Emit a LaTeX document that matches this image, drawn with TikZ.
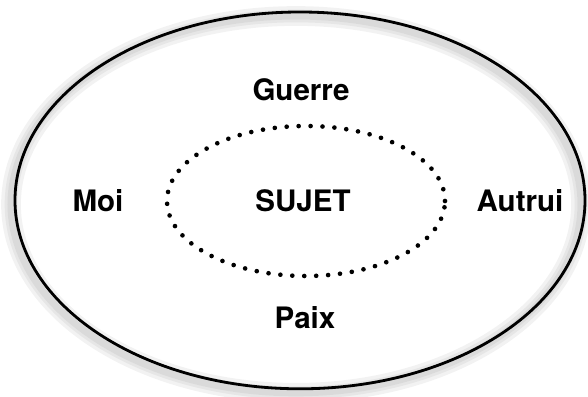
\documentclass[tikz,border=0pt]{standalone}
\usepackage{fontspec}
\setsansfont{TeX Gyre Heros}
\usetikzlibrary{positioning}

\begin{document}
\begin{tikzpicture}[mot/.style={font=\sffamily\bfseries\fontsize{21}{24}\selectfont, inner sep=0pt}]
\useasboundingbox (0,0) rectangle (14.7,9.9);
% soft shade under the outer ring, pushed down and left
\foreach \w in {14,9,5}
  \draw[black, opacity=0.05, line width=\w pt] (7.4,4.79) ellipse (7.125 and 4.71);
\draw[line width=2pt] (7.5,4.89) ellipse (7.125 and 4.71);
% dotted ring round the subject
\draw[line width=3.3pt, line cap=round, dash pattern=on 0pt off 8.5pt] (7.65,4.875) ellipse (3.475 and 1.875);
\node[mot] (sujet) at (7.575,4.875) {SUJET};
\node[mot] (guerre) at (7.525,7.65) {Guerre};
\node[mot] (paix) at (7.625,1.95) {Paix};
\node[mot] (moi) at (2.45,4.875) {Moi};
\node[mot] (autrui) at (13.0,4.875) {Autrui};
\end{tikzpicture}
\end{document}
